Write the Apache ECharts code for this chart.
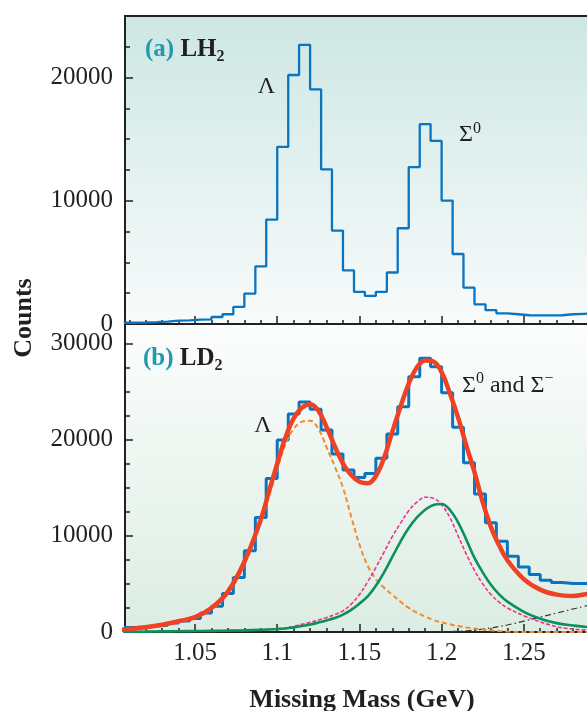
<!DOCTYPE html>
<html>
<head>
<meta charset="utf-8">
<title>Missing mass spectra</title>
<script src="https://cdn.jsdelivr.net/npm/echarts@6/dist/echarts.min.js"></script>
<style>
  html, body { margin: 0; padding: 0; background: #fff; }
  #MyChart { width: 587px; height: 711px; }
</style>
</head>
<body>
<div id="MyChart"></div>
<script>
// histogram bin edges (GeV), 1/150 GeV wide
const binEdges = [1.0067, 1.0133, 1.02, 1.0267, 1.0333, 1.04, 1.0467, 1.0533, 1.06, 1.0667,
  1.0733, 1.08, 1.0867, 1.0933, 1.1, 1.1067, 1.1133, 1.12, 1.1267, 1.1333,
  1.14, 1.1467, 1.1533, 1.16, 1.1667, 1.1733, 1.18, 1.1867, 1.1933, 1.2,
  1.2067, 1.2133, 1.22, 1.2267, 1.2333, 1.24, 1.2467, 1.2533, 1.26, 1.2667,
  1.2733, 1.28, 1.2867, 1.2933];

// (a) LH2 counts per bin
const countsLH2 = [100, 120, 150, 200, 280, 300, 350, 380, 570, 790,
  1390, 2470, 4670, 8480, 14370, 20210, 22660, 19050, 12550, 7580,
  4350, 2610, 2280, 2610, 4180, 7770, 12740, 16220, 14860, 10020,
  5680, 2960, 1600, 1120, 870, 790, 710, 700, 700, 710,
  790, 830, 870];

// (b) LD2 counts per bin
const countsLD2 = [460, 520, 620, 700, 940, 1150, 1390, 1980, 2670, 3990,
  5660, 8430, 11900, 15960, 19940, 22650, 23900, 23140, 20980, 18490,
  16820, 16060, 16480, 18040, 20570, 23410, 26530, 28440, 27570, 24860,
  21260, 17580, 14330, 11360, 9440, 7880, 6760, 5970, 5380, 5140,
  5030, 5030, 5030];

// fit curves
const fitMass = [1.005, 1.02, 1.03, 1.04, 1.05, 1.06, 1.07, 1.08, 1.09,
  1.095, 1.10, 1.105, 1.11, 1.115, 1.12, 1.125, 1.13, 1.135, 1.14,
  1.145, 1.15, 1.155, 1.16, 1.165, 1.17, 1.175, 1.18, 1.185, 1.19,
  1.195, 1.20, 1.205, 1.21, 1.215, 1.22, 1.225, 1.23, 1.235, 1.24,
  1.25, 1.26, 1.27, 1.28, 1.29, 1.30];
const fitTotal = [230, 500, 760, 1120, 1550, 2500, 4200, 7300, 11700,
  14600, 17500, 20200, 22200, 23300, 23650, 23000, 21300, 19300, 17500,
  16300, 15600, 15450, 16200, 18100, 20800, 23400, 25800, 27500, 28200,
  28100, 27000, 24800, 22300, 19400, 16600, 13500, 10900, 9000, 7450,
  5500, 4400, 3880, 3750, 4000, 4300];
const fitLambda = [210, 460, 700, 1050, 1450, 2350, 4000, 7000, 11300,
  14100, 16900, 19500, 21100, 21850, 21950, 21100, 19200, 17200, 15000,
  12000, 9100, 6900, 5500, 4600, 3850, 3150, 2500, 2000, 1600,
  1250, 1000, 800, 620, 480, 360, 260, 170, 100, 50,
  0, 0, 0, 0, 0, 0];
const fitSigma0 = [20, 40, 60, 80, 100, 120, 150, 180, 230,
  270, 330, 420, 600, 800, 1000, 1250, 1500, 1800, 2200,
  2900, 3900, 5200, 6700, 8300, 9900, 11300, 12600, 13500, 14000,
  13900, 13200, 11900, 10000, 8100, 6400, 5000, 3900, 3100, 2500,
  1700, 1050, 550, 300, 170, 100];
const fitSigmaMinus = [20, 40, 60, 80, 100, 120, 140, 170, 220,
  260, 310, 370, 480, 620, 780, 980, 1200, 1450, 1800,
  2300, 2950, 3700, 4800, 6200, 7800, 9400, 10800, 11900, 12700,
  13200, 13300, 12700, 11400, 9600, 7700, 6200, 4900, 3900, 3150,
  2100, 1380, 920, 680, 500, 420];
const fitBackground = [null, null, null, null, null, null, null, null, null,
  null, null, null, null, null, null, null, null, null, null,
  null, null, null, null, null, null, null, null, null, 0,
  0, 20, 40, 80, 130, 200, 300, 420, 570, 730,
  1130, 1550, 1970, 2390, 2800, 3200];

// tick positions
const massTicks = [1.05, 1.1, 1.15, 1.2, 1.25];
const massMinorTicks = [1.01, 1.02, 1.03, 1.04, 1.06, 1.07, 1.08, 1.09, 1.11, 1.12,
  1.13, 1.14, 1.16, 1.17, 1.18, 1.19, 1.21, 1.22, 1.23, 1.24, 1.26, 1.27, 1.28, 1.29];
const countTicksLH2 = [0, 10000, 20000];
const countMinorLH2 = [2500, 5000, 7500, 12500, 15000, 17500, 22500];
const countTicksLD2 = [0, 10000, 20000, 30000];
const countMinorLD2 = [2500, 5000, 7500, 12500, 15000, 17500, 22500, 25000, 27500];

const serif = '"Liberation Serif", "Times New Roman", serif';
const ink = '#231f20';
const xMin = 1.0074, xMax = 1.30;

// step:'end' draws each bin flat from its left edge, last edge closes the last bin
function histLine(counts) {
  let pts = counts.map((c, i) => [binEdges[i], c]);
  pts.push([binEdges[counts.length], counts[counts.length - 1]]);
  return pts;
}
function curve(values) {
  return fitMass.map((m, i) => [m, values[i]]);
}

function massAxis(grid, ticks, len, labels) {
  return {
    type: 'value', gridIndex: grid, position: 'bottom', min: xMin, max: xMax,
    axisLine: { show: false },
    splitLine: { show: false },
    axisTick: { show: true, inside: true, length: len, customValues: ticks,
      lineStyle: { color: '#222', width: 1.5 } },
    axisLabel: labels ? { show: true, customValues: ticks, margin: 9,
      color: ink, fontFamily: serif, fontSize: 25 } : { show: false }
  };
}
function countAxis(grid, max, ticks, len, labels) {
  return {
    type: 'value', gridIndex: grid, position: 'left', min: 0, max: max,
    axisLine: { show: false },
    splitLine: { show: false },
    axisTick: { show: true, inside: true, length: len, customValues: ticks,
      lineStyle: { color: '#222', width: 1.5 } },
    axisLabel: labels ? { show: true, customValues: ticks, margin: 12,
      formatter: v => String(v),
      color: ink, fontFamily: serif, fontSize: 25 } : { show: false }
  };
}

let myChart = echarts.init(document.getElementById('MyChart'));
let option = {
  animation: false,
  backgroundColor: '#fff',
  grid: [
    { left: 125, right: -19, top: 16, height: 308, show: true,
      outerBoundsMode: 'none',
      borderColor: '#222', borderWidth: 2,
      backgroundColor: { type: 'linear', x: 0, y: 0, x2: 0, y2: 1,
        colorStops: [{ offset: 0, color: '#cde7e3' }, { offset: 1, color: '#f8fbfb' }] } },
    { left: 125, right: -19, top: 324, height: 308, show: true,
      outerBoundsMode: 'none',
      borderColor: '#222', borderWidth: 2,
      backgroundColor: { type: 'linear', x: 0, y: 0, x2: 0, y2: 1,
        colorStops: [{ offset: 0, color: '#fbfdfc' }, { offset: 1, color: '#dcede3' }] } }
  ],
  xAxis: [
    massAxis(0, massTicks, 8, false),
    massAxis(0, massMinorTicks, 4, false),
    massAxis(1, massTicks, 8, true),
    massAxis(1, massMinorTicks, 4, false)
  ],
  yAxis: [
    countAxis(0, 25000, countTicksLH2, 8, true),
    countAxis(0, 25000, countMinorLH2, 5, false),
    countAxis(1, 32000, countTicksLD2, 8, true),
    countAxis(1, 32000, countMinorLD2, 5, false)
  ],
  series: [
    { name: 'LH2', type: 'line', xAxisIndex: 0, yAxisIndex: 0, step: 'end',
      showSymbol: false, data: histLine(countsLH2),
      lineStyle: { color: '#0b74c0', width: 2.3 } },
    { name: 'LD2', type: 'line', xAxisIndex: 2, yAxisIndex: 2, step: 'end',
      showSymbol: false, data: histLine(countsLD2),
      lineStyle: { color: '#0b74c0', width: 3 } },
    { name: 'background', type: 'line', xAxisIndex: 2, yAxisIndex: 2, smooth: 0.4,
      showSymbol: false, data: curve(fitBackground),
      lineStyle: { color: '#333', width: 1.2, type: [6, 3, 1.5, 3] } },
    { name: 'Lambda', type: 'line', xAxisIndex: 2, yAxisIndex: 2, smooth: 0.4,
      showSymbol: false, data: curve(fitLambda),
      lineStyle: { color: '#f28a2e', width: 2, type: [5, 3] } },
    { name: 'Sigma0', type: 'line', xAxisIndex: 2, yAxisIndex: 2, smooth: 0.4,
      showSymbol: false, data: curve(fitSigma0),
      lineStyle: { color: '#e8358f', width: 1.6, type: [4, 2] } },
    { name: 'Sigma-', type: 'line', xAxisIndex: 2, yAxisIndex: 2, smooth: 0.4,
      showSymbol: false, data: curve(fitSigmaMinus),
      lineStyle: { color: '#0f8f5c', width: 2.6 } },
    { name: 'total', type: 'line', xAxisIndex: 2, yAxisIndex: 2, smooth: 0.4,
      showSymbol: false, data: curve(fitTotal),
      lineStyle: { color: '#ef4123', width: 4.5 } }
  ],
  graphic: [
    { type: 'text', x: 145, y: 50, z: 100, style: {
        text: '{p|(a)}{b| LH}{sub|2}', textAlign: 'left', textVerticalAlign: 'middle',
        rich: {
          p: { fill: '#2399ad', fontFamily: serif, fontWeight: 'bold', fontSize: 25 },
          b: { fill: ink, fontFamily: serif, fontWeight: 'bold', fontSize: 25 },
          sub: { fill: ink, fontFamily: serif, fontWeight: 'bold', fontSize: 16, padding: [14, 0, 0, 0] }
        } } },
    { type: 'text', x: 143, y: 359, z: 100, style: {
        text: '{p|(b)}{b| LD}{sub|2}', textAlign: 'left', textVerticalAlign: 'middle',
        rich: {
          p: { fill: '#2399ad', fontFamily: serif, fontWeight: 'bold', fontSize: 25 },
          b: { fill: ink, fontFamily: serif, fontWeight: 'bold', fontSize: 25 },
          sub: { fill: ink, fontFamily: serif, fontWeight: 'bold', fontSize: 16, padding: [14, 0, 0, 0] }
        } } },
    { type: 'text', x: 266.5, y: 87, z: 100, style: {
        text: 'Λ', fill: ink, font: '24px ' + serif, textAlign: 'center', textVerticalAlign: 'middle' } },
    { type: 'text', x: 459, y: 135, z: 100, style: {
        text: '{m|Σ}{sup|0}', textAlign: 'left', textVerticalAlign: 'middle',
        rich: {
          m: { fill: ink, fontFamily: serif, fontSize: 24 },
          sup: { fill: ink, fontFamily: serif, fontSize: 16, padding: [0, 0, 12, 0] }
        } } },
    { type: 'text', x: 263, y: 426, z: 100, style: {
        text: 'Λ', fill: ink, font: '24px ' + serif, textAlign: 'center', textVerticalAlign: 'middle' } },
    { type: 'text', x: 462, y: 386, z: 100, style: {
        text: '{m|Σ}{sup|0}{m| and Σ}{sup|−}', textAlign: 'left', textVerticalAlign: 'middle',
        rich: {
          m: { fill: ink, fontFamily: serif, fontSize: 24 },
          sup: { fill: ink, fontFamily: serif, fontSize: 16, padding: [0, 0, 14, 0] }
        } } },
    { type: 'text', x: 24, y: 318, rotation: Math.PI / 2, z: 100, style: {
        text: 'Counts', fill: ink, font: 'bold 26px ' + serif,
        textAlign: 'center', textVerticalAlign: 'middle' } },
    { type: 'text', x: 362, y: 700, z: 100, style: {
        text: 'Missing Mass (GeV)', fill: ink, font: 'bold 26px ' + serif,
        textAlign: 'center', textVerticalAlign: 'middle' } }
  ]
};
myChart.setOption(option);
</script>
</body>
</html>
